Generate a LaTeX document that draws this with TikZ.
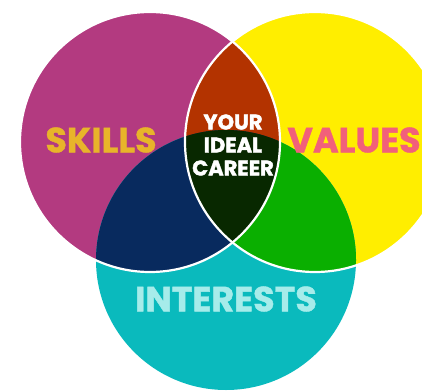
\documentclass[tikz,border=0pt]{standalone}
\usepackage{fontspec}
\newfontfamily\vennfont{Poppins}[BoldFeatures={FakeBold=1.2}]
\newfontfamily\heavyfont{Poppins}[BoldFeatures={FakeBold=2}]
\definecolor{skillcol}{HTML}{B33A80}
\definecolor{valuecol}{HTML}{FFEE00}
\definecolor{interestcol}{HTML}{0ABABD}
\definecolor{svcol}{HTML}{B33300}
\definecolor{sicol}{HTML}{082A5E}
\definecolor{vicol}{HTML}{0AAF00}
\definecolor{allcol}{HTML}{082800}
\definecolor{skilltxt}{HTML}{E8B42A}
\definecolor{valuetxt}{HTML}{F2607A}
\definecolor{interesttxt}{HTML}{A6ECEA}
\tikzset{
  vennlabel/.style={font=\vennfont\bfseries\fontsize{35}{35}\selectfont, inner sep=0pt},
  centrelabel/.style={font=\heavyfont\bfseries\fontsize{21}{23}\selectfont, text=white, align=center, inner sep=0pt},
  rim/.style={draw=white, line width=2.2pt}
}
\begin{document}
\begin{tikzpicture}[x=1pt,y=-1pt]
\useasboundingbox (0,0) rectangle (422,390);
\coordinate (s) at (150,142);
\coordinate (v) at (315,142);
\coordinate (i) at (226,260);
\fill[skillcol] (s) circle (130pt);
\fill[valuecol] (v) circle (130pt);
\fill[interestcol] (i) circle (130pt);
\begin{scope}
  \clip (v) circle (130pt);
  \fill[vicol] (i) circle (130pt);
\end{scope}
\begin{scope}
  \clip (s) circle (130pt);
  \fill[svcol] (v) circle (130pt);
  \fill[sicol] (i) circle (130pt);
  \clip (v) circle (130pt);
  \fill[allcol] (i) circle (130pt);
\end{scope}
\draw[rim] (s) circle (130pt);
\draw[rim] (v) circle (130pt);
\node[vennlabel, text=skilltxt] (skills) at (101,140) {SKILLS};
\node[vennlabel, text=valuetxt] (values) at (354,140) {VALUES};
\node[vennlabel, text=interesttxt] (interests) at (226,299) {INTERESTS};
\node[centrelabel] (career) at (233,145) {YOUR\\IDEAL\\CAREER};
\end{tikzpicture}
\end{document}
